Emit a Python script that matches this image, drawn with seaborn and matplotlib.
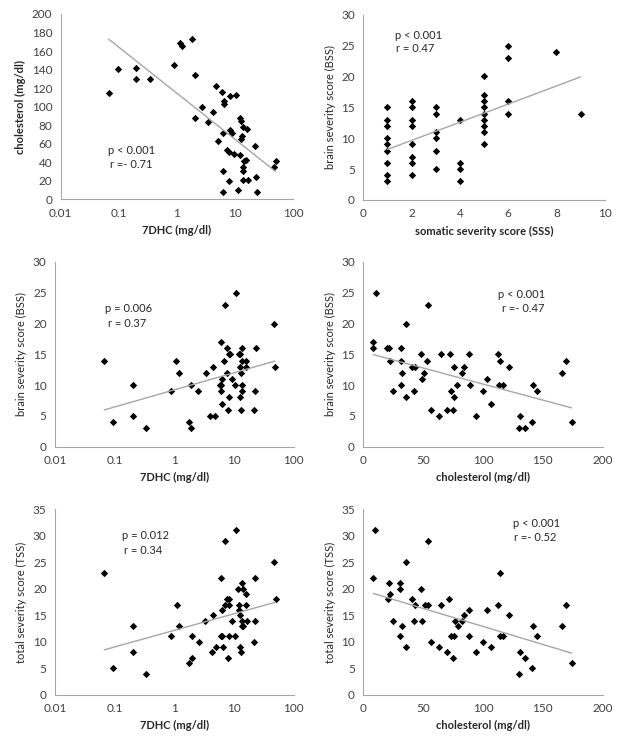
import seaborn as sns
import matplotlib.pyplot as plt
import numpy as np

# panel A: cholesterol vs 7DHC
dhc_a = [0.067, 0.095, 0.2, 0.2, 0.34, 0.89, 1.11, 1.22, 1.81, 2.0, 2.0, 2.65, 3.4, 4.2, 4.7,
         5.0, 6.0, 6.2, 6.3, 6.2, 6.5, 6.5, 7.2, 7.7, 7.8, 8.3, 8.3, 8.8, 9.4, 10.3,
         11.3, 11.9, 12.3, 12.6, 12.6, 13.1, 13.6, 13.6, 13.6, 13.6, 14.0, 15.5, 16.0, 16.4, 22.2,
         22.4, 23.7, 47, 49.5]
chol_a = [115, 141, 142, 130, 130, 145, 169, 166, 173, 134, 88, 100, 83, 94, 122,
          63, 116, 72, 31, 8, 106, 103, 53, 51, 20, 112, 75, 72, 49, 113,
          10, 48, 88, 84, 65, 68, 78, 35, 31, 21, 41, 42, 76, 21, 57,
          24, 8, 35, 41]

# panel B: BSS vs SSS
sss_b = [1, 1, 1, 1, 1, 1, 1, 1, 1, 2, 2, 2, 2, 2, 2, 2, 2, 3, 3, 3, 3, 3, 3,
         4, 4, 4, 4, 5, 5, 5, 5, 5, 5, 5, 5, 5, 6, 6, 6, 6, 8, 9]
bss_b = [15, 13, 12, 10, 9, 8, 6, 4, 3, 16, 15, 13, 12, 9, 7, 6, 4, 15, 14, 11, 10, 8, 5,
         13, 6, 5, 3, 20, 17, 16, 15, 14, 13, 12, 11, 9, 25, 23, 16, 14, 24, 14]

# panel C: BSS vs 7DHC
dhc_c = [0.067, 0.094, 0.2, 0.2, 0.33, 0.87, 1.08, 1.19, 1.74, 1.92, 1.92, 2.52, 3.35, 4.0, 4.5,
         4.8, 6.05, 5.9, 6.1, 6.0, 6.2, 6.4, 6.9, 7.1, 7.6, 7.6, 8.1, 8.5, 8.1, 8.0,
         9.3, 10.3, 11, 12, 12.4, 12.4, 12.8, 13.3, 13.6, 13.6, 13.8, 13.8, 13.1, 15.6, 15.9,
         22.4, 21.6, 23.5, 46.6, 48.5]
bss_c = [14, 4, 10, 5, 3, 9, 14, 12, 4, 10, 3, 9, 12, 5, 13,
         5, 17, 10, 10, 9, 11, 7, 14, 23, 16, 12, 15, 15, 8, 6,
         11, 10, 25, 15, 15, 13, 8, 12, 16, 14, 10, 9, 6, 14, 13,
         9, 6, 16, 20, 13]

# panel D: BSS vs cholesterol
chol_d = [8.4, 8.4, 10.3, 20, 21.4, 22.3, 25, 31.2, 31.2, 31.2, 32.3, 35.4, 35.7, 40.7, 43.5,
          42, 47.9, 48.7, 51, 53.2, 54.3, 56.8, 63, 65, 69.6, 72.4, 73, 75.2, 75.8, 75.8,
          78.6, 82.5, 83.8, 88.6, 88.9, 93.9, 99.7, 103.6, 107, 112.5, 114.5, 113, 117, 121.7, 129.8,
          131, 134.8, 141, 141.8, 144.8, 166.3, 169.6, 174]
bss_d = [17, 16, 25, 16, 16, 14, 9, 16, 14, 10, 12, 20, 8, 13, 13,
         9, 15, 11, 12, 14, 23, 6, 5, 15, 6, 15, 9, 6, 13, 8,
         10, 12, 13, 15, 10, 5, 9, 11, 7, 15, 14, 10, 10, 13, 3,
         5, 3, 4, 10, 9, 12, 14, 4]

# panel E: TSS vs 7DHC
dhc_e = [0.067, 0.094, 0.2, 0.2, 0.33, 0.87, 1.1, 1.2, 1.75, 1.95, 1.95, 2.6, 3.3, 4.2, 4.5,
         4.9, 6.0, 6.0, 6.3, 6.5, 6.4, 7.0, 7.1, 7.7, 8.1, 8.1, 7.9, 8.3, 9.3, 10.3,
         10.8, 11.8, 12.3, 12.3, 12.5, 12.6, 13.3, 13.4, 13.6, 13.6, 14.2, 14.2, 15.9, 16.1, 16.3,
         22.4, 22.4, 22, 46.6, 49.6]
tss_e = [23, 5, 13, 8, 4, 11, 17, 13, 6, 11, 7, 10, 14, 8, 15,
         9, 22, 11, 11, 9, 16, 17, 29, 18, 18, 17, 7, 11, 14, 11,
         31, 20, 17, 16, 15, 9, 8, 13, 14, 21, 20, 13, 19, 17, 14,
         22, 14, 10, 25, 18]

# panel F: TSS vs cholesterol
chol_f = [8.4, 10, 20.6, 21.2, 22.6, 25, 31, 31, 31, 32.3, 35.4, 36, 41, 42.4, 43.5,
          48, 49, 51.6, 53.8, 54, 56.6, 63, 65, 69.6, 72, 73, 76, 75, 76.6, 78.8,
          82.5, 84, 88.6, 88.6, 94, 99.7, 103.6, 107, 112.5, 114.5, 114, 117, 121.7, 129.8, 131,
          134.8, 141, 141.8, 144.8, 166.3, 169.6, 174]
tss_f = [22, 31, 18, 21, 19, 14, 21, 20, 11, 13, 25, 9, 18, 14, 17,
         20, 14, 17, 17, 29, 10, 9, 17, 8, 18, 11, 11, 7, 14, 13,
         14, 15, 16, 11, 8, 10, 16, 9, 17, 23, 11, 11, 15, 4, 8,
         7, 5, 13, 11, 13, 17, 6]

log_ticks = [0.01, 0.1, 1, 10, 100]
log_labels = ["0.01", "0.1", "1", "10", "100"]
chol_ticks = [0, 50, 100, 150, 200]

sns.set_style("white")
plt.rcParams["font.family"] = ["Lato", "DejaVu Sans"]

W, H = 624, 748
fig = plt.figure(figsize=(W / 100, H / 100), dpi=100)


def make_ax(left, top, right, bottom):
    return fig.add_axes([left / W, 1 - bottom / H, (right - left) / W, (bottom - top) / H])


axis_col = "#A6A6A6"
text_col = "#404040"


def panel(ax, x, y, logx, xticks, xticklabels, yticks, xlabel, ylabel, ybold, notes, pos):
    if logx:
        ax.set_xscale("log")
    sns.scatterplot(x=x, y=y, ax=ax, marker="D", s=14, color="black", linewidth=0)
    sns.regplot(x=np.array(x), y=np.array(y), ax=ax, scatter=False, ci=None, logx=logx,
                line_kws={"color": "#A6A6A6", "linewidth": 1.0})
    ax.set_xlim(xticks[0], xticks[-1])
    ax.set_ylim(yticks[0], yticks[-1])
    ax.set_xticks(xticks)
    ax.set_xticklabels(xticklabels)
    ax.minorticks_off()
    ax.set_yticks(yticks)
    ax.set_yticklabels([str(v) for v in yticks])
    for s in ["top", "right"]:
        ax.spines[s].set_visible(False)
    for s in ["left", "bottom"]:
        ax.spines[s].set_color(axis_col)
        ax.spines[s].set_linewidth(0.8)
    ax.tick_params(axis="both", direction="out", length=3, width=0.8, color=axis_col,
                   labelsize=8.5, labelcolor=text_col, pad=3)
    ax.set_xlabel(xlabel, fontsize=8, fontweight="bold", color="#262626", labelpad=4.5)
    ax.set_ylabel(ylabel, fontsize=8, fontweight="bold" if ybold else "normal",
                  color="#262626", labelpad=4)
    for (tx, ty), t in zip(pos, notes):
        ax.text(tx, ty, t, transform=ax.transAxes, fontsize=8, color="#262626",
                va="center", ha="left")


ax1 = make_ax(60.7, 14, 293.3, 199.3)
panel(ax1, dhc_a, chol_a, True, log_ticks, log_labels, [0, 20, 40, 60, 80, 100, 120, 140, 160, 180, 200],
      "7DHC (mg/dl)", "cholesterol (mg/dl)", True,
      ["p < 0.001", "r =- 0.71"], [(0.203, 0.266), (0.212, 0.19)])

ax2 = make_ax(363.3, 14.7, 604.7, 200)
panel(ax2, sss_b, bss_b, False, [0, 2, 4, 6, 8, 10], ["0", "2", "4", "6", "8", "10"],
      [0, 5, 10, 15, 20, 25, 30],
      "somatic severity score (SSS)", "brain severity score (BSS)", False,
      ["p < 0.001", "r = 0.47"], [(0.131, 0.89), (0.135, 0.819)])

ax3 = make_ax(55, 262, 293.7, 446.7)
panel(ax3, dhc_c, bss_c, True, log_ticks, log_labels, [0, 5, 10, 15, 20, 25, 30],
      "7DHC (mg/dl)", "brain severity score (BSS)", False,
      ["p = 0.006", "r = 0.37"], [(0.211, 0.746), (0.223, 0.668)])

ax4 = make_ax(363.3, 262, 602.7, 446.7)
panel(ax4, chol_d, bss_d, False, chol_ticks, [str(v) for v in chol_ticks], [0, 5, 10, 15, 20, 25, 30],
      "cholesterol (mg/dl)", "brain severity score (BSS)", False,
      ["p < 0.001", "r =- 0.47"], [(0.564, 0.825), (0.581, 0.746)])

ax5 = make_ax(55, 509.3, 293.7, 694.7)
panel(ax5, dhc_e, tss_e, True, log_ticks, log_labels, [0, 5, 10, 15, 20, 25, 30, 35],
      "7DHC (mg/dl)", "total severity score (TSS)", False,
      ["p = 0.012", "r = 0.34"], [(0.279, 0.861), (0.289, 0.78)])

ax6 = make_ax(363.3, 509.3, 602.7, 694.7)
panel(ax6, chol_f, tss_f, False, chol_ticks, [str(v) for v in chol_ticks], [0, 5, 10, 15, 20, 25, 30, 35],
      "cholesterol (mg/dl)", "total severity score (TSS)", False,
      ["p < 0.001", "r =- 0.52"], [(0.627, 0.924), (0.63, 0.847)])

fig.savefig("out.png", dpi=100)
plt.close(fig)
